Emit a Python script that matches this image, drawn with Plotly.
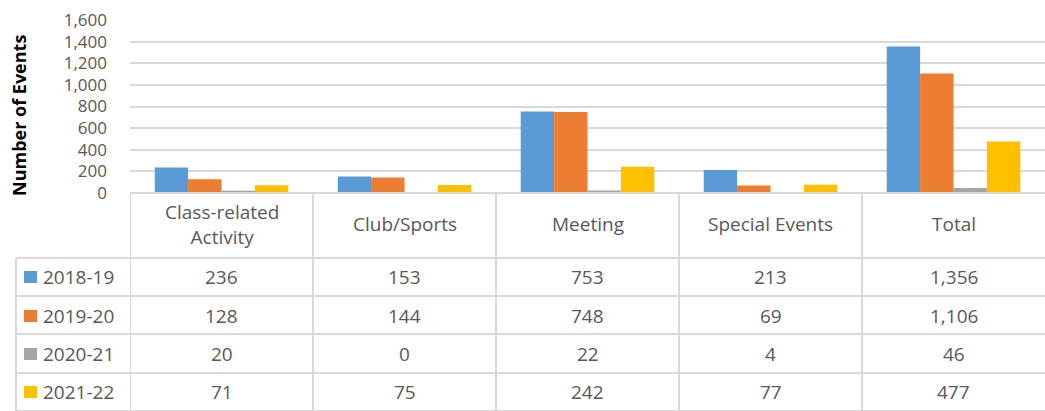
import plotly.graph_objects as go

categories = ["Class-related<br>Activity", "Club/Sports", "Meeting", "Special Events", "Total"]
series_names = ["2018-19", "2019-20", "2020-21", "2021-22"]
v_2018_19 = [236, 153, 753, 213, 1356]
v_2019_20 = [128, 144, 748, 69, 1106]
v_2020_21 = [20, 0, 22, 4, 46]
v_2021_22 = [71, 75, 242, 77, 477]
colors = ["#5B9BD5", "#ED7D31", "#A5A5A5", "#FFC000"]
y_ticks = [0, 200, 400, 600, 800, 1000, 1200, 1400, 1600]

series_values = [v_2018_19, v_2019_20, v_2020_21, v_2021_22]

W, H = 1045, 411
L, R, T, B = 130, 0, 20, 218
PW = W - L - R
PH = H - T - B
FONT = "Open Sans"
GRAY = "#595959"
LINE = "#D9D9D9"


def px_x(px):
    return (px - L) / PW


def px_y(py):
    return (H - B - py) / PH


fig = go.Figure()
xs = list(range(len(categories)))
for name, vals, col in zip(series_names, series_values, colors):
    fig.add_trace(go.Bar(x=xs, y=vals, name=name, marker=dict(color=col, line=dict(width=0)),
                         hoverinfo="y+name"))

shapes = []
annotations = []

# table horizontal lines
table_top = 193
row_lines = [258, 296, 334, 373, 411]
shapes.append(dict(type="line", xref="paper", yref="paper", x0=px_x(130), x1=px_x(W + 5),
                   y0=px_y(table_top), y1=px_y(table_top), line=dict(color=LINE, width=2)))
for yl in row_lines:
    shapes.append(dict(type="line", xref="paper", yref="paper", x0=px_x(16), x1=px_x(W + 5),
                       y0=px_y(yl), y1=px_y(yl), line=dict(color=LINE, width=2)))
# vertical lines
shapes.append(dict(type="line", xref="paper", yref="paper", x0=px_x(16), x1=px_x(16),
                   y0=px_y(258), y1=px_y(H + 5), line=dict(color=LINE, width=2)))
for i in range(len(categories)):
    xb = i - 0.5
    shapes.append(dict(type="line", xref="x", yref="paper", x0=xb, x1=xb,
                       y0=px_y(table_top), y1=px_y(H + 5), line=dict(color=LINE, width=2)))

# header texts
for i, c in enumerate(categories):
    annotations.append(dict(x=i, y=px_y(224), xref="x", yref="paper", text=c, showarrow=False,
                            font=dict(family=FONT, size=19, color=GRAY), xanchor="center",
                            yanchor="middle", align="center"))

row_centers = [277, 316, 354, 392]
for r, (name, vals, col) in enumerate(zip(series_names, series_values, colors)):
    yc = row_centers[r]
    shapes.append(dict(type="rect", xref="paper", yref="paper", x0=px_x(24), x1=px_x(37),
                       y0=px_y(yc + 6), y1=px_y(yc - 6), fillcolor=col, line=dict(width=0)))
    annotations.append(dict(x=px_x(41), y=px_y(yc), xref="paper", yref="paper", text=name,
                            showarrow=False, font=dict(family=FONT, size=19, color=GRAY),
                            xanchor="left", yanchor="middle"))
    for i, v in enumerate(vals):
        annotations.append(dict(x=i, y=px_y(yc), xref="x", yref="paper", text=f"{v:,}",
                                showarrow=False, font=dict(family=FONT, size=19, color=GRAY),
                                xanchor="center", yanchor="middle"))

# y axis title
annotations.append(dict(x=px_x(19), y=px_y(116), xref="paper", yref="paper",
                        text="<b>Number of Events</b>", textangle=-90, showarrow=False,
                        font=dict(family=FONT, size=18, color="#000000"),
                        xanchor="center", yanchor="middle"))

fig.update_layout(
    width=W, height=H,
    margin=dict(l=L, r=R, t=T, b=B, pad=0),
    paper_bgcolor="white", plot_bgcolor="white",
    barmode="group", bargap=0.27, bargroupgap=0,
    showlegend=False,
    shapes=shapes, annotations=annotations,
    xaxis=dict(range=[-0.5, len(categories) - 0.5], showticklabels=False, showgrid=False,
               zeroline=False, showline=False, ticks=""),
    yaxis=dict(range=[0, 1600], tickvals=y_ticks, tickformat=",", showgrid=True,
               gridcolor=LINE, gridwidth=1.5, zeroline=False, showline=False,
               tickfont=dict(family=FONT, size=17, color=GRAY), ticklabelstandoff=22),
)

fig.write_html("out.html", config={"displayModeBar": False},
               post_script="document.body.style.margin='0';document.body.style.overflow='hidden';")
